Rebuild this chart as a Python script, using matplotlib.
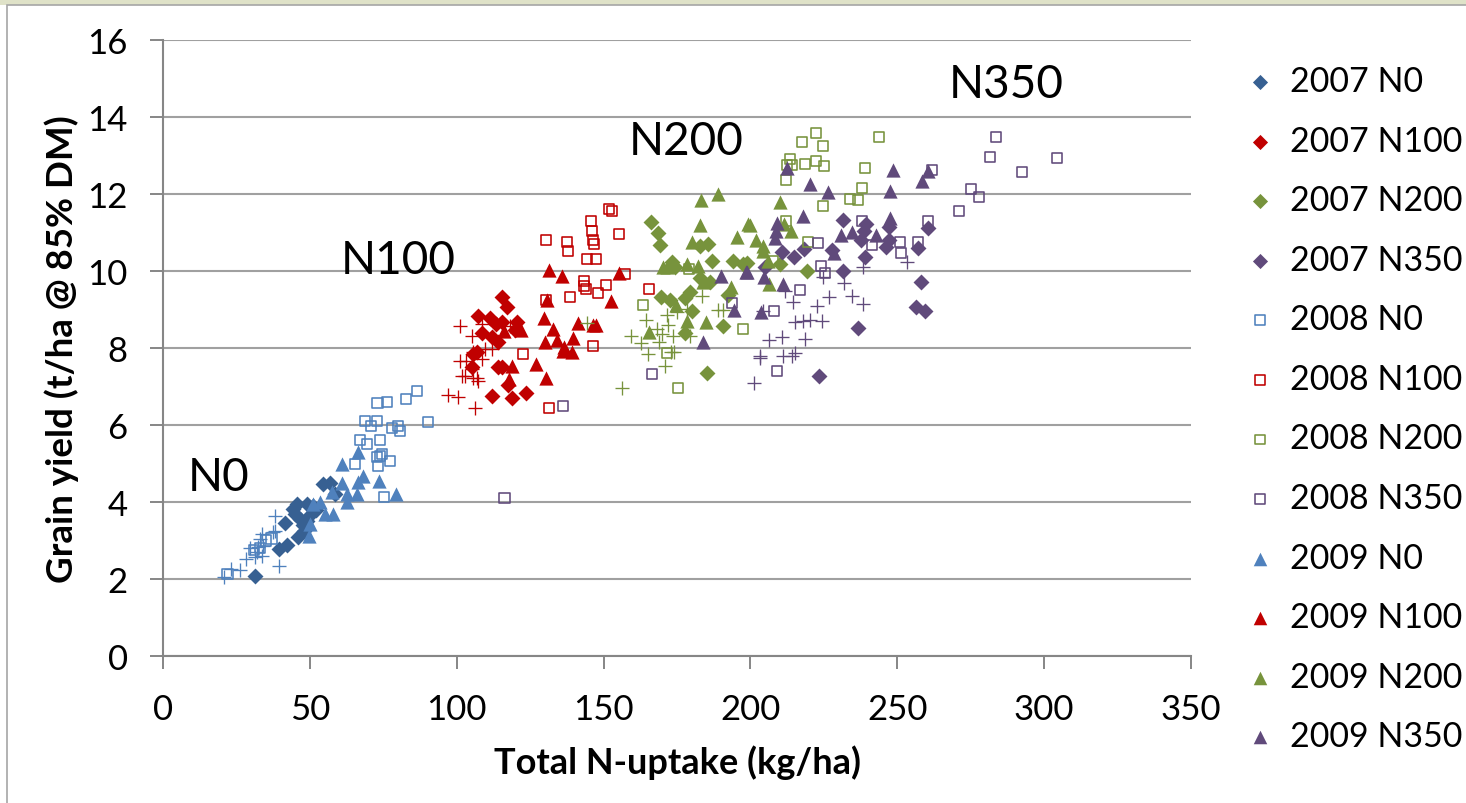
import matplotlib
matplotlib.use("Agg")
import matplotlib.pyplot as plt
from matplotlib.patches import Rectangle

plt.rcParams['font.family'] = ['Lato', 'DejaVu Sans']

blue_dark = '#376092'
blue = '#4F81BD'
red = '#C00000'
green = '#77933C'
purple = '#604A7B'

# 2007 - diamonds
x07_n0 = [31.3, 39.5, 42.2, 46, 41.5, 44.3, 45.6, 49, 46.6, 49, 54.5, 56.9, 58.6, 47.5, 48, 51, 45, 50, 52]
y07_n0 = [2.08, 2.78, 2.88, 3.09, 3.45, 3.82, 3.95, 3.95, 3.56, 3.5, 4.47, 4.49, 4.2, 3.4, 3.25, 3.9, 3.7, 3.65, 3.8]
x07_n100 = [115.4, 117.1, 107.3, 111.3, 113.4, 115.4, 120.5, 119.8, 108.6, 112, 114, 106.9, 105.5, 105.2, 114, 115.4, 117.5, 123.6, 118.8, 112]
y07_n100 = [9.32, 9.06, 8.83, 8.78, 8.62, 8.68, 8.68, 8.47, 8.4, 8.29, 8.16, 7.9, 7.84, 7.51, 7.51, 7.5, 7.04, 6.83, 6.7, 6.75]
x07_n200 = [166.2, 168.5, 169.2, 182.8, 185.6, 186.9, 194, 197.5, 173.3, 174.3, 182.8, 186.2, 179.4, 177.7, 169.6, 172.6, 180.1, 192.4, 190.7, 177.7, 185.2, 219.3, 210, 199]
y07_n200 = [11.27, 11.0, 10.68, 10.65, 10.7, 10.26, 10.26, 10.18, 10.23, 10.1, 9.82, 9.71, 9.45, 9.3, 9.32, 9.25, 8.96, 9.38, 8.57, 8.39, 7.35, 10.0, 10.18, 10.2]
x07_n350 = [231.5, 239.4, 238.7, 247.2, 237.7, 247.2, 246.2, 260.5, 257.1, 227.8, 218.3, 210.8, 214.8, 239, 205, 231.5, 258, 256.4, 259.5, 236.6, 223.4]
y07_n350 = [11.32, 11.22, 11.04, 11.14, 10.8, 10.8, 10.62, 11.12, 10.6, 10.55, 10.57, 10.49, 10.36, 10.36, 10.1, 10.0, 9.71, 9.06, 8.96, 8.52, 7.27]

# 2008 - open squares
x08_n0 = [86.5, 82.7, 76.3, 73, 68.8, 72.9, 70.8, 78, 80, 80.7, 90.2, 67, 73.9, 69.5, 74.6, 72.9, 73.9, 73.2, 77.3, 65.4, 75.2, 22, 31, 33, 35, 37]
y08_n0 = [6.88, 6.68, 6.6, 6.57, 6.1, 6.1, 5.97, 5.92, 5.97, 5.84, 6.08, 5.61, 5.61, 5.51, 5.25, 5.17, 5.19, 4.94, 5.07, 4.99, 4.13, 2.13, 2.75, 2.8, 3.0, 3.05]
x08_n100 = [151.9, 152.9, 145.7, 146, 155.3, 146.4, 146.7, 130.4, 137.6, 137.9, 144.4, 147.4, 157.3, 143.3, 143.3, 144, 150.8, 148.1, 138.6, 130.4, 165.5, 122.6, 146.4, 131.4]
y08_n100 = [11.61, 11.56, 11.3, 11.04, 10.96, 10.8, 10.7, 10.8, 10.75, 10.52, 10.31, 10.31, 9.92, 9.74, 9.61, 9.53, 9.64, 9.43, 9.32, 9.25, 9.53, 7.84, 8.05, 6.44]
x08_n200 = [222.3, 217.6, 224.7, 243.8, 213.5, 212.5, 214.2, 218.6, 222.3, 225, 239, 212.1, 238, 233.9, 236.6, 224.7, 212.1, 219.6, 163.4, 197.5, 171.6, 175.4, 179, 207.7]
y08_n200 = [13.58, 13.35, 13.25, 13.48, 12.91, 12.75, 12.75, 12.78, 12.86, 12.73, 12.68, 12.36, 12.16, 11.87, 11.84, 11.69, 11.3, 10.75, 9.12, 8.49, 7.87, 6.96, 10.05, 10.26]
x08_n350 = [283.6, 281.6, 304.4, 292.5, 261.8, 275.1, 277.8, 271, 238, 260.5, 223, 241.4, 250.9, 257.1, 251.3, 224, 225.4, 216.9, 208, 209, 166.5, 193.7, 136.2, 116.3]
y08_n350 = [13.48, 12.96, 12.94, 12.57, 12.62, 12.13, 11.92, 11.56, 11.3, 11.3, 10.73, 10.68, 10.75, 10.75, 10.47, 10.13, 9.95, 9.51, 8.96, 7.4, 7.32, 9.17, 6.49, 4.1]

# 2009 - triangles
x09_n0 = [66.4, 61, 61, 68, 66.4, 73.5, 79.3, 62.6, 62.6, 66, 57.8, 55.2, 53.5, 51, 50, 49.7, 57.5]
y09_n0 = [5.3, 5.0, 4.5, 4.68, 4.52, 4.55, 4.2, 4.2, 4.0, 4.2, 3.69, 3.69, 4.0, 3.95, 3.43, 3.12, 4.26]
x09_n100 = [131.4, 135.9, 155.3, 130.7, 152.5, 129.7, 132.8, 141.3, 146.4, 147.4, 139.6, 134.1, 130, 136.5, 136.2, 139.3, 127, 130.4, 118.8, 116, 121.9, 117.8]
y09_n100 = [10.03, 9.87, 9.95, 9.25, 9.22, 8.78, 8.49, 8.65, 8.6, 8.6, 8.26, 8.21, 8.16, 8.03, 7.92, 7.9, 7.58, 7.22, 7.53, 8.44, 8.47, 7.2]
x09_n200 = [183.2, 189, 182.8, 199.2, 195.4, 180.1, 170.2, 171.6, 178.4, 182.2, 183.9, 193.4, 174.7, 178.4, 184.9, 165.5, 210, 199.9, 201.9, 204.3, 204.3, 211.4, 213.8, 206, 206.3]
y09_n200 = [11.84, 12.0, 11.19, 11.22, 10.88, 10.75, 10.1, 10.1, 10.18, 10.13, 9.71, 9.58, 9.12, 8.7, 8.68, 8.42, 11.79, 11.19, 10.8, 10.65, 10.52, 11.22, 11.04, 10.26, 9.66]
x09_n350 = [212.5, 248.6, 260.5, 258.4, 220.3, 226.4, 247.5, 217.9, 209.1, 208.7, 208.4, 247.5, 230.9, 234.6, 242.8, 228.5, 198.8, 204.6, 211.1, 203.6, 190, 198.5, 194.4, 183.9]
y09_n350 = [12.68, 12.62, 12.6, 12.34, 12.26, 12.05, 12.08, 11.43, 11.25, 11.04, 10.86, 11.38, 10.94, 11.01, 10.94, 10.47, 9.97, 9.84, 9.66, 8.94, 9.87, 9.97, 8.99, 8.16]

# plus series, no entry in the legend
xp_n0 = [38.1, 37.6, 33.7, 33, 34, 29.6, 32, 33.7, 28.3, 26.2, 23.1, 20.8, 39.5, 32.3, 31.3, 38]
yp_n0 = [3.64, 3.22, 3.17, 3.04, 2.86, 2.8, 2.7, 2.6, 2.52, 2.23, 2.26, 2.05, 2.34, 2.83, 2.57, 3.25]
xp_n100 = [101.1, 105.2, 108.6, 118.1, 112, 105.5, 101.1, 103.2, 108.6, 101.8, 102.8, 106.9, 105.5, 107.3, 97, 100.4, 106.2, 109.6, 105.2]
yp_n100 = [8.57, 8.31, 8.62, 8.57, 7.97, 7.9, 7.66, 7.66, 7.71, 7.27, 7.27, 7.22, 7.22, 7.14, 6.78, 6.73, 6.44, 7.97, 7.45]
xp_n200 = [144.4, 159.3, 164.5, 162.8, 165.1, 168.2, 168.9, 169.9, 171.9, 171.6, 173.6, 173, 174, 170.9, 179.4, 183.5, 189, 190.7, 175, 178.4, 156.3]
yp_n200 = [8.65, 8.31, 8.73, 8.13, 7.84, 8.49, 8.16, 8.36, 8.6, 8.86, 8.31, 7.9, 7.9, 7.53, 8.31, 9.35, 8.99, 8.99, 8.93, 9.01, 6.96]
xp_n350 = [238.3, 253.3, 224.7, 231.9, 211.8, 234.6, 226.8, 238.3, 214.5, 222.7, 204.3, 215.2, 217.9, 220.3, 224.4, 210.8, 206.3, 218.6, 203.3, 203.3, 211.1, 214.2, 215.2, 201.2]
yp_n350 = [10.1, 10.23, 9.84, 9.69, 9.48, 9.35, 9.32, 9.14, 9.19, 9.09, 8.96, 8.68, 8.7, 8.73, 8.7, 8.29, 8.21, 8.23, 7.79, 7.74, 7.79, 7.79, 7.87, 7.09]

group_labels = ['N0', 'N100', 'N200', 'N350']
group_x = [19, 80, 178, 287]
group_y = [4.65, 10.28, 13.37, 14.85]

fig = plt.figure(figsize=(14.66, 8.04), dpi=100)

# slide frame and the strip of background picture on top
fig.add_artist(Rectangle((0, 1 - 6 / 804), 1, 6 / 804, transform=fig.transFigure, color='#DFE2C8', lw=0))
fig.add_artist(Rectangle((7 / 1466, -0.01), 1.1, 1.01 - 6 / 804, transform=fig.transFigure,
                         fill=False, ec='#A6A6A6', lw=1.2))

ax = fig.add_axes([163 / 1466, 1 - 657 / 804, 1028 / 1466, 616 / 804])

diamonds = [(x07_n0, y07_n0, blue_dark, '2007 N0'), (x07_n100, y07_n100, red, '2007 N100'),
            (x07_n200, y07_n200, green, '2007 N200'), (x07_n350, y07_n350, purple, '2007 N350')]
squares = [(x08_n0, y08_n0, blue, '2008 N0'), (x08_n100, y08_n100, red, '2008 N100'),
           (x08_n200, y08_n200, green, '2008 N200'), (x08_n350, y08_n350, purple, '2008 N350')]
triangles = [(x09_n0, y09_n0, blue, '2009 N0'), (x09_n100, y09_n100, red, '2009 N100'),
             (x09_n200, y09_n200, green, '2009 N200'), (x09_n350, y09_n350, purple, '2009 N350')]
pluses = [(xp_n0, yp_n0, blue), (xp_n100, yp_n100, red), (xp_n200, yp_n200, green), (xp_n350, yp_n350, purple)]

for x, y, c, name in diamonds:
    ax.scatter(x, y, marker='D', s=66, color=c, lw=0, label=name, zorder=3)
for x, y, c, name in squares:
    ax.scatter(x, y, marker='s', s=56, facecolors='none', edgecolors=c, lw=1.15, label=name, zorder=3)
for x, y, c, name in triangles:
    ax.scatter(x, y, marker='^', s=105, color=c, lw=0, label=name, zorder=3)
for x, y, c in pluses:
    ax.scatter(x, y, marker='+', s=105, color=c, lw=0.95, zorder=3)

for name, x, y in zip(group_labels, group_x, group_y):
    ax.text(x, y, name, fontsize=33, ha='center', va='center', color='black')

ax.set_xlim(0, 350)
ax.set_ylim(0, 16)
ax.set_xticks(range(0, 351, 50))
ax.set_yticks(range(0, 17, 2))
ax.grid(True, axis='y', color='#A0A0A0', lw=1.5)
ax.set_axisbelow(True)
for side in ['top', 'right']:
    ax.spines[side].set_visible(False)
for side in ['left', 'bottom']:
    ax.spines[side].set_color('#868686')
    ax.spines[side].set_linewidth(1.5)
ax.tick_params(axis='y', length=9.4, width=1.4, color='#868686', labelsize=25, pad=16)
ax.tick_params(axis='x', length=9.4, width=1.4, color='#868686', labelsize=25, pad=17)

ax.set_xlabel('Total N-uptake (kg/ha)', fontsize=26, fontweight='bold', labelpad=14)
ax.set_ylabel('Grain yield (t/ha @ 85% DM)', fontsize=26.5, fontweight='bold', labelpad=6)

ax.legend(loc='center left', bbox_to_anchor=(1073 / 1028, 0.4015), frameon=False, fontsize=24.5,
          labelspacing=0.81, handletextpad=0.2, borderaxespad=0, borderpad=0, handlelength=1.4,
          markerscale=0.95)

fig.savefig('out.png', dpi=100)
